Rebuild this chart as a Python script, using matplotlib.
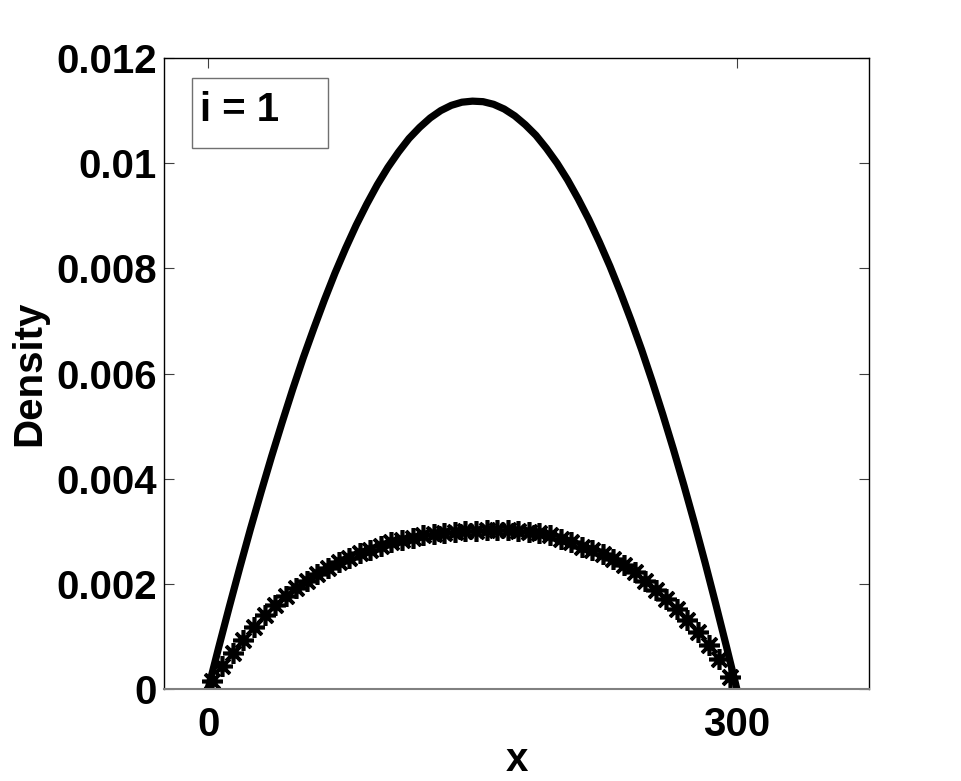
import numpy as np
import matplotlib
matplotlib.use('Agg')
import matplotlib.pyplot as plt
from matplotlib.patches import Rectangle

# solid curve
x_line = [0, 6, 12, 18, 24, 30, 36, 42, 48, 54, 60, 66, 72, 78, 84, 90, 96, 102,
          108, 114, 120, 126, 132, 138, 144, 150, 156, 162, 168, 174, 180, 186,
          192, 198, 204, 210, 216, 222, 228, 234, 240, 246, 252, 258, 264, 270,
          276, 282, 288, 294, 300]
density_line = [0, 0.00079, 0.00156, 0.00231, 0.00304, 0.00374, 0.00442, 0.00507,
                0.00570, 0.00630, 0.00686, 0.00740, 0.00791, 0.00838, 0.00882,
                0.00922, 0.00959, 0.00992, 0.01021, 0.01047, 0.01068, 0.01086,
                0.01100, 0.01110, 0.01116, 0.01118, 0.01117, 0.01112, 0.01103,
                0.01090, 0.01073, 0.01053, 0.01028, 0.01000, 0.00968, 0.00932,
                0.00893, 0.00850, 0.00804, 0.00754, 0.00701, 0.00645, 0.00585,
                0.00522, 0.00456, 0.00387, 0.00315, 0.00240, 0.00162, 0.00082, 0]

# asterisk curve
x_star = [2, 8, 14, 20, 26, 32, 38, 44, 50, 56, 62, 68, 74, 80, 86, 92, 98, 104,
          110, 116, 122, 128, 134, 140, 146, 152, 158, 164, 170, 176, 182, 188,
          194, 200, 206, 212, 218, 224, 230, 236, 242, 248, 254, 260, 266, 272,
          278, 284, 290, 296]
density_star = [0.00015, 0.00043, 0.00069, 0.00094, 0.00117, 0.00140, 0.00160,
                0.00176, 0.00192, 0.00205, 0.00219, 0.00231, 0.00241, 0.00250,
                0.00258, 0.00265, 0.00272, 0.00279, 0.00284, 0.00288, 0.00292,
                0.00295, 0.00297, 0.00299, 0.00300, 0.00301, 0.00302, 0.00302,
                0.00302, 0.00301, 0.00299, 0.00296, 0.00292, 0.00286, 0.00279,
                0.00271, 0.00264, 0.00256, 0.00247, 0.00236, 0.00222, 0.00206,
                0.00189, 0.00171, 0.00152, 0.00132, 0.00108, 0.00083, 0.00057,
                0.00022]

xticks = [0, 300]
yticks = [0, 0.002, 0.004, 0.006, 0.008, 0.01, 0.012]
yticklabels = ['0', '0.002', '0.004', '0.006', '0.008', '0.01', '0.012']

plt.rcParams['font.family'] = ['Liberation Sans', 'DejaVu Sans']
plt.rcParams['font.weight'] = 'bold'

fig = plt.figure(figsize=(9.61, 7.81), dpi=100)
ax = fig.add_axes([0.1707, 0.1178, 0.7336, 0.8079])

ax.plot(x_line, density_line, color='black', linewidth=5.2, solid_capstyle='butt')
ax.plot(x_star, density_star, linestyle='none', marker=(8, 2, 0), markersize=15,
        markeredgewidth=2.6, color='black')

ax.set_xlim(-25, 375)
ax.set_ylim(0, 0.012)
ax.set_xticks(xticks)
ax.set_xticklabels([str(t) for t in xticks])
ax.set_yticks(yticks)
ax.set_yticklabels(yticklabels)
ax.tick_params(direction='in', length=7, width=0.8, labelsize=29, top=True, right=True,
               color='#404040')
ax.tick_params(axis='x', pad=12)
ax.tick_params(axis='y', pad=5)
for lab in ax.get_xticklabels() + ax.get_yticklabels():
    lab.set_fontweight('bold')
for s in ax.spines.values():
    s.set_linewidth(1.0)
    s.set_color('black')
ax.spines['bottom'].set_color('#808080')
ax.spines['bottom'].set_linewidth(1.5)

ax.set_xlabel('x', fontsize=29, fontweight='bold', labelpad=-2)
ax.set_ylabel('Density', fontsize=29, fontweight='bold', labelpad=6)

ax.add_patch(Rectangle((0.0397, 0.857), 0.193, 0.111, transform=ax.transAxes,
                       facecolor='white', edgecolor='#707070', linewidth=1.0, zorder=5))
ax.text(0.051, 0.917, 'i = 1', transform=ax.transAxes, fontsize=29, fontweight='bold',
        va='center', ha='left', zorder=6)

fig.savefig('out.png', dpi=100)
